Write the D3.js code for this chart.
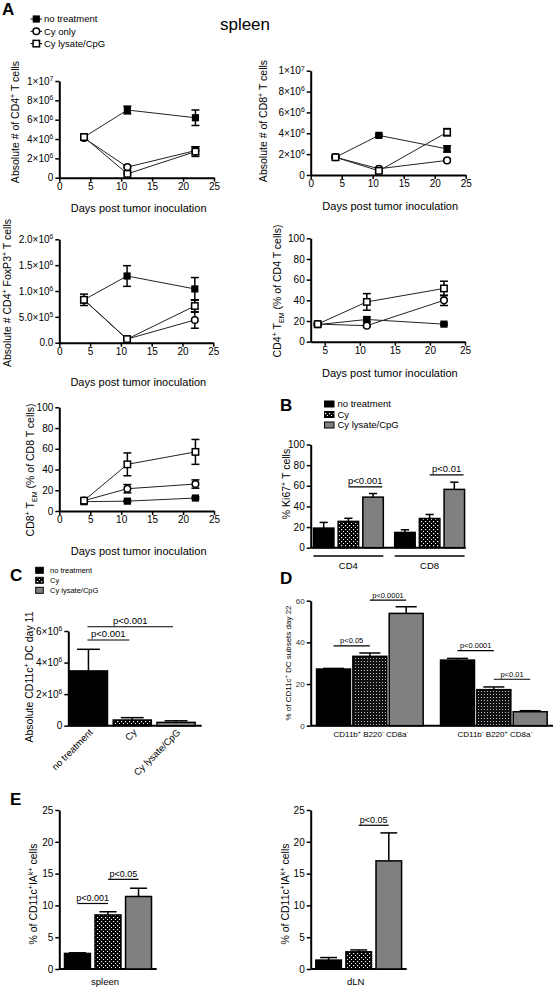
<!DOCTYPE html>
<html><head><meta charset="utf-8">
<script src="https://cdn.jsdelivr.net/npm/d3@7/dist/d3.min.js"></script>
<style>
body{margin:0;background:#fff;}
svg{display:block;}
</style></head>
<body>
<svg id="fig" width="557" height="989"></svg>
<script>
// ================= DATA =================
const days = [4, 11, 22];
const lineSeriesNames = ["no treatment", "Cy only", "Cy lysate/CpG"];
const barNames = ["no treatment", "Cy", "Cy lysate/CpG"];

// A1: Absolute # of CD4+ T cells
const cd4AbsNT = [4.2e6, 7.0e6, 6.2e6],  cd4AbsNTerr = [0.3e6, 0.4e6, 0.8e6];
const cd4AbsCy = [4.1e6, 1.1e6, 2.8e6],  cd4AbsCyErr = [0.2e6, 0.1e6, 0.4e6];
const cd4AbsLy = [4.2e6, 0.4e6, 2.7e6],  cd4AbsLyErr = [0.2e6, 0.1e6, 0.5e6];
// A2: Absolute # of CD8+ T cells
const cd8AbsNT = [1.7e6, 3.8e6, 2.5e6],  cd8AbsNTerr = [0.1e6, 0.1e6, 0.3e6];
const cd8AbsCy = [1.7e6, 0.6e6, 1.4e6],  cd8AbsCyErr = [0.1e6, 0.1e6, 0.1e6];
const cd8AbsLy = [1.7e6, 0.4e6, 4.1e6],  cd8AbsLyErr = [0.1e6, 0.1e6, 0.35e6];
// A3: Absolute # CD4+ FoxP3+ T cells
const foxNT = [0.83e6, 1.29e6, 1.04e6],  foxNTerr = [0.11e6, 0.2e6, 0.22e6];
const foxCy = [0.83e6, 0.07e6, 0.44e6],  foxCyErr = [0.05e6, 0.02e6, 0.16e6];
const foxLy = [0.83e6, 0.07e6, 0.71e6],  foxLyErr = [0.05e6, 0.02e6, 0.12e6];
// A4: CD4+ TEM (% of CD4 T cells)
const tem4NT = [16.5, 21.5, 17],  tem4NTerr = [1, 2, 1];
const tem4Cy = [17, 15.5, 40],    tem4CyErr = [1, 1, 5];
const tem4Ly = [17, 38.5, 51.5],  tem4LyErr = [1, 8, 7];
// A5: CD8+ TEM (% of CD8 T cells)
const tem8NT = [9, 9.5, 12.5],  tem8NTerr = [1, 1, 1];
const tem8Cy = [10, 21.5, 26],  tem8CyErr = [1, 4, 4];
const tem8Ly = [10, 45, 57],    tem8LyErr = [1, 11, 12];
// B: % Ki67+ T cells
const ki67Groups = ["CD4", "CD8"];
const ki67CD4 = [19, 25.5, 49],     ki67CD4err = [5.5, 3, 3.5];
const ki67CD8 = [14.8, 28.3, 56.5], ki67CD8err = [2.6, 3.9, 7];
// C: Absolute CD11c+ DC day 11
const dcAbs = [3.47e6, 0.36e6, 0.21e6], dcAbsErr = [1.37e6, 0.15e6, 0.1e6];
// D: % of CD11c+ DC subsets day 22
const subsetGroups = ["CD11b+ B220- CD8a-", "CD11b- B220+ CD8a-"];
const subset1 = [27.2, 33.3, 53.9], subset1err = [0.3, 1.6, 3.2];
const subset2 = [31.5, 17.3, 6.7],  subset2err = [0.8, 1.3, 0.5];
// E: % of CD11c+IAk+ cells
const iaSpleen = [2.45, 8.5, 11.4], iaSpleenErr = [0.1, 0.5, 1.3];
const iaDLN = [1.4, 2.7, 17.0],     iaDLNerr = [0.4, 0.3, 4.4];

// tick values
const absTicks = [0, 2e6, 4e6, 6e6, 8e6, 1e7];
const foxTicks = [0, 5e5, 1e6, 1.5e6, 2e6];
const pctTicks = [0, 20, 40, 60, 80, 100];
const dayTicks = [0, 5, 10, 15, 20, 25];
const dayTicksTem = [5, 10, 15, 20, 25];
const dcTicks = [0, 2e6, 4e6, 6e6];
const subsetTicks = [0, 20, 40, 60];
const iaTicks = [0, 5, 10, 15, 20, 25];

// significance annotations
const ki67Sig = [["CD4", 1, 2, 59, "p<0.001"], ["CD8", 1, 2, 70.6, "p<0.01"]];
const dcSig = [[0, 2, 6.27e6, "p<0.001"], [0, 1, 5.43e6, "p<0.001"]];
const subsetSig = [[0, 1, 2, 60.3, "p<0.0001"], [0, 0, 1, 38.3, "p<0.05"], [1, 0, 1, 36, "p<0.0001"], [1, 1, 2, 22.3, "p<0.01"]];
const spleenSig = [[0, 1, 10.3, "p<0.001"], [1, 2, 14.1, "p<0.05"]];
const dlnSig = [[1, 2, 22.6, "p<0.05"]];

// ================= DRAWING =================
const FONT = "'Liberation Sans', Arial, Helvetica, sans-serif";
const TICK_FS = 10;
const svg = d3.select("#fig");
svg.append("rect").attr("width", 557).attr("height", 989).attr("fill", "#fff");
const defs = svg.append("defs");
const pd = defs.append("pattern").attr("id", "dots").attr("patternUnits", "userSpaceOnUse").attr("width", 4).attr("height", 4);
pd.append("rect").attr("width", 4).attr("height", 4).attr("fill", "#000");
pd.append("rect").attr("x", 1).attr("y", 1).attr("width", 1.2).attr("height", 1.2).attr("fill", "#fff");
pd.append("rect").attr("x", 3).attr("y", 3).attr("width", 1).attr("height", 1).attr("fill", "#fff");
const pf = defs.append("pattern").attr("id", "dotsFine").attr("patternUnits", "userSpaceOnUse").attr("width", 3).attr("height", 3);
pf.append("rect").attr("width", 3).attr("height", 3).attr("fill", "#111");
pf.append("rect").attr("x", 1).attr("y", 1).attr("width", 1).attr("height", 1).attr("fill", "#bbb");

const barFills = ["#000", "url(#dots)", "#808080"];

function rich(t, parts, fs) {
  t.attr("font-family", FONT).attr("font-size", fs).attr("fill", "#000");
  let cur = 0;
  parts.forEach(p => {
    const [s, k] = Array.isArray(p) ? p : [p, ""];
    const off = k === "sup" ? -0.38 * fs : k === "sub" ? 0.25 * fs : 0;
    const ts = t.append("tspan").text(s);
    if (off !== cur) ts.attr("dy", off - cur);
    if (k) ts.attr("font-size", fs * 0.68);
    cur = off;
  });
  return t;
}
function addText(parent, x, y, parts, fs, anchor, extra) {
  const t = parent.append("text").attr("x", x).attr("y", y).attr("text-anchor", anchor || "start");
  if (extra) extra(t);
  return rich(t, parts, fs);
}
function yLabel(x, y, parts, fs) {
  const g = svg.append("g").attr("transform", `translate(${x},${y}) rotate(-90)`);
  rich(g.append("text").attr("text-anchor", "middle"), parts, fs);
}
function styleAxis(g, fs, col) {
  g.select(".domain").attr("stroke", "#000").attr("stroke-width", 2);
  g.selectAll(".tick line").attr("stroke", "#000").attr("stroke-width", 1.5);
  g.selectAll(".tick text").attr("font-family", FONT).attr("font-size", fs).attr("fill", col || "#000");
}
function sci(mant, exp) { return [[mant + "×10", ""], [String(exp), "sup"]]; }
const fmtAbs = d => d === 0 ? ["0"] : d === 1e7 ? sci("1", 7) : sci(String(d / 1e6), 6);
const fmtFox = d => d === 0 ? ["0.0"] : d < 1e6 ? sci((d / 1e5).toFixed(1), 5) : sci((d / 1e6).toFixed(1), 6);
const fmtDc = d => d === 0 ? ["0"] : sci(String(d / 1e6), 6);
const fmtPlain = d => [String(d)];

function yAxis(g, y, x0, ticks, fmt, fs, col) {
  const gy = g.append("g").attr("transform", `translate(${x0},0)`)
    .call(d3.axisLeft(y).tickValues(ticks).tickSizeInner(4).tickSizeOuter(0).tickPadding(2).tickFormat(() => ""));
  styleAxis(gy, fs, col);
  gy.selectAll(".tick text").each(function (d) { rich(d3.select(this), fmt(d), fs).attr("fill", col || "#000"); });
  return gy;
}

function marker(g, type, cx, cy) {
  if (type === "sq") g.append("rect").attr("x", cx - 3.6).attr("y", cy - 3.6).attr("width", 7.2).attr("height", 7.2).attr("fill", "#000");
  else if (type === "circ") g.append("circle").attr("cx", cx).attr("cy", cy).attr("r", 3.3).attr("fill", "#fff").attr("stroke", "#000").attr("stroke-width", 1.5);
  else g.append("rect").attr("x", cx - 3.2).attr("y", cy - 3.2).attr("width", 6.4).attr("height", 6.4).attr("fill", "#fff").attr("stroke", "#000").attr("stroke-width", 1.5);
}
const markerTypes = ["sq", "circ", "osq"];

function linePanel(c) {
  const x = d3.scaleLinear().domain(c.xDomain).range(c.xRange);
  const y = d3.scaleLinear().domain(c.yDomain).range(c.yRange);
  const g = svg.append("g");
  const gx = g.append("g").attr("transform", `translate(0,${c.yRange[0]})`)
    .call(d3.axisBottom(x).tickValues(c.xTicks).tickSizeInner(4).tickSizeOuter(0).tickPadding(1));
  styleAxis(gx, TICK_FS);
  yAxis(g, y, c.xRange[0], c.yTicks, c.yFmt, TICK_FS);
  const line = d3.line().x((d, i) => x(days[i])).y(d => y(d));
  c.series.forEach(s => g.append("path").attr("d", line(s.v)).attr("fill", "none").attr("stroke", "#222").attr("stroke-width", 1));
  c.series.forEach(s => s.v.forEach((v, i) => {
    const xx = x(days[i]), lo = y(v - s.e[i]), hi = y(v + s.e[i]);
    g.append("line").attr("x1", xx).attr("x2", xx).attr("y1", lo).attr("y2", hi).attr("stroke", "#000").attr("stroke-width", 1.5);
    [lo, hi].forEach(yy => g.append("line").attr("x1", xx - 4).attr("x2", xx + 4).attr("y1", yy).attr("y2", yy).attr("stroke", "#000").attr("stroke-width", 1.5));
  }));
  c.series.forEach((s, k) => s.v.forEach((v, i) => marker(g, markerTypes[k], x(days[i]), y(v))));
  addText(g, (c.xRange[0] + c.xRange[1]) / 2 + 2, c.titleY, ["Days post tumor inoculation"], 11, "middle");
}

function mk(v, e) { return { v, e }; }

// ---- A panels ----
addText(svg, 2, 15, ["A"], 17, "start", t => t.attr("font-weight", "bold"));
addText(svg, 245, 30, ["spleen"], 17, "middle");
lineSeriesNames.forEach((n, i) => {
  const yy = 19 + i * 12.3;
  svg.append("line").attr("x1", 30.5).attr("x2", 42).attr("y1", yy).attr("y2", yy).attr("stroke", "#000").attr("stroke-width", 1);
  marker(svg, markerTypes[i], 36.3, yy);
  addText(svg, 44, yy + 3.3, [n], 9.5);
});

linePanel({ xDomain: [0, 25], xRange: [59.3, 214], yDomain: [0, 1e7], yRange: [177.7, 81], xTicks: dayTicks, yTicks: absTicks, yFmt: fmtAbs, titleY: 212,
  series: [mk(cd4AbsNT, cd4AbsNTerr), mk(cd4AbsCy, cd4AbsCyErr), mk(cd4AbsLy, cd4AbsLyErr)] });
yLabel(19, 122, ["Absolute # of CD4", ["+", "sup"], " T cells"], 10.5);

linePanel({ xDomain: [0, 25], xRange: [310.7, 465.7], yDomain: [0, 1e7], yRange: [175, 70.7], xTicks: dayTicks, yTicks: absTicks, yFmt: fmtAbs, titleY: 210,
  series: [mk(cd8AbsNT, cd8AbsNTerr), mk(cd8AbsCy, cd8AbsCyErr), mk(cd8AbsLy, cd8AbsLyErr)] });
yLabel(266.5, 121, ["Absolute  # of CD8", ["+", "sup"], " T cells"], 10.5);

linePanel({ xDomain: [0, 25], xRange: [59.3, 213.3], yDomain: [0, 2e6], yRange: [342.7, 239.3], xTicks: dayTicks, yTicks: foxTicks, yFmt: fmtFox, titleY: 386,
  series: [mk(foxNT, foxNTerr), mk(foxCy, foxCyErr), mk(foxLy, foxLyErr)] });
yLabel(11, 293, ["Absolute # CD4", ["+", "sup"], " FoxP3", ["+", "sup"], " T cells"], 10.5);

linePanel({ xDomain: [3, 25], xRange: [310.7, 465], yDomain: [0, 100], yRange: [341.7, 238.3], xTicks: dayTicksTem, yTicks: pctTicks, yFmt: fmtPlain, titleY: 377,
  series: [mk(tem4NT, tem4NTerr), mk(tem4Cy, tem4CyErr), mk(tem4Ly, tem4LyErr)] });
yLabel(281, 291, ["CD4", ["+", "sup"], " T", ["EM", "sub"], " (% of CD4  T cells)"], 10.5);

linePanel({ xDomain: [0, 25], xRange: [59.3, 214], yDomain: [0, 100], yRange: [511, 407.3], xTicks: dayTicks, yTicks: pctTicks, yFmt: fmtPlain, titleY: 555,
  series: [mk(tem8NT, tem8NTerr), mk(tem8Cy, tem8CyErr), mk(tem8Ly, tem8LyErr)] });
yLabel(34, 470, ["CD8", ["+", "sup"], " T", ["EM", "sub"], " (% of  CD8 T cells)"], 10.5);

// ---- bar helpers ----
function barBase(c) {
  const y = d3.scaleLinear().domain(c.yDomain).range(c.yRange);
  const g = svg.append("g");
  g.append("line").attr("x1", c.x0).attr("x2", c.xEnd).attr("y1", y(0)).attr("y2", y(0)).attr("stroke", "#000").attr("stroke-width", 2);
  yAxis(g, y, c.x0, c.ticks, c.fmt, c.fs || TICK_FS, c.col);
  return { g, y };
}
function drawBars(g, y, bars, capFrac) {
  bars.forEach(b => {
    g.append("rect").attr("x", b.x).attr("y", y(b.v)).attr("width", b.w).attr("height", y(0) - y(b.v))
      .attr("fill", b.fill).attr("stroke", "#000").attr("stroke-width", 1.5);
    const cx = b.x + b.w / 2, top = y(b.v + b.e);
    g.append("line").attr("x1", cx).attr("x2", cx).attr("y1", y(b.v)).attr("y2", top).attr("stroke", "#000").attr("stroke-width", 1.5);
    g.append("line").attr("x1", cx - b.w * capFrac / 2).attr("x2", cx + b.w * capFrac / 2).attr("y1", top).attr("y2", top).attr("stroke", "#000").attr("stroke-width", 1.5);
  });
}
function bracket(g, x1, x2, yy, label, fs) {
  g.append("line").attr("x1", x1).attr("x2", x2).attr("y1", yy).attr("y2", yy).attr("stroke", "#000").attr("stroke-width", 1.2);
  addText(g, (x1 + x2) / 2, yy - 2.5, [label], fs, "middle");
}
function swatch(g, x, y, w, h, fill) {
  g.append("rect").attr("x", x).attr("y", y).attr("width", w).attr("height", h).attr("fill", fill).attr("stroke", "#000").attr("stroke-width", 1);
}

// ---- B ----
addText(svg, 280, 411, ["B"], 17, "start", t => t.attr("font-weight", "bold"));
barNames.forEach((n, i) => {
  const yy = 404 + i * 10.5;
  swatch(svg, 324.5, yy - 3, 9.5, 6, barFills[i]);
  addText(svg, 337.5, yy + 3.4, [n], 9.5);
});
{
  const { g, y } = barBase({ yDomain: [0, 100], yRange: [547.7, 444.5], x0: 310.7, xEnd: 465.7, ticks: pctTicks, fmt: fmtPlain });
  const outer = d3.scaleBand().domain(ki67Groups).range([311, 467]).paddingInner(0.14).paddingOuter(0.03);
  const inner = d3.scaleBand().domain(barNames).range([0, outer.bandwidth()]).paddingInner(0.17);
  const vals = { CD4: [ki67CD4, ki67CD4err], CD8: [ki67CD8, ki67CD8err] };
  const bars = [];
  ki67Groups.forEach(gr => barNames.forEach((n, i) => bars.push({ x: outer(gr) + inner(n), w: inner.bandwidth(), v: vals[gr][0][i], e: vals[gr][1][i], fill: barFills[i] })));
  drawBars(g, y, bars, 0.4);
  ki67Sig.forEach(([gr, a, b, lev, lab]) => {
    const x1 = outer(gr) + inner(barNames[a]) + inner.bandwidth() / 2;
    const x2 = outer(gr) + inner(barNames[b]) + inner.bandwidth() * 0.95;
    bracket(g, x1, x2, y(lev), lab, 9.5);
  });
  ki67Groups.forEach(gr => {
    g.append("line").attr("x1", outer(gr)).attr("x2", outer(gr) + outer.bandwidth()).attr("y1", 556).attr("y2", 556).attr("stroke", "#000").attr("stroke-width", 1.5);
    addText(g, outer(gr) + outer.bandwidth() / 2, 569, [gr], 9.5, "middle");
  });
  yLabel(290, 484, ["% Ki67", ["+", "sup"], " T cells"], 10.5);
}

// ---- C ----
addText(svg, 10, 581, ["C"], 17, "start", t => t.attr("font-weight", "bold"));
barNames.forEach((n, i) => {
  const yy = 570.3 + i * 10;
  swatch(svg, 35.7, yy - 3, 7.6, 6, barFills[i]);
  addText(svg, 50, yy + 2.7, [n], 7.5);
});
{
  const { g, y } = barBase({ yDomain: [0, 6e6], yRange: [725.7, 631], x0: 68.3, xEnd: 201.7, ticks: dcTicks, fmt: fmtDc });
  const xb = d3.scaleBand().domain(barNames).range([68.5, 196]).paddingInner(0.13).paddingOuter(0.02);
  const bars = barNames.map((n, i) => ({ x: xb(n), w: xb.bandwidth(), v: dcAbs[i], e: dcAbsErr[i], fill: barFills[i] }));
  drawBars(g, y, bars, 0.6);
  const cxOf = i => xb(barNames[i]) + xb.bandwidth() / 2;
  dcSig.forEach(([a, b, lev, lab]) => bracket(g, cxOf(a) - 1, cxOf(b) - 3, y(lev), lab, 9.5));
  barNames.forEach((n, i) => {
    const t = g.append("text").attr("text-anchor", "end").attr("transform", `translate(${cxOf(i) + 5},${733}) rotate(-45)`);
    rich(t, [n], 9.5);
  });
  yLabel(33, 677, ["Absolute CD11c", ["+", "sup"], " DC day 11"], 10.5);
}

// ---- D ----
addText(svg, 280, 584, ["D"], 17, "start", t => t.attr("font-weight", "bold"));
{
  const { g, y } = barBase({ yDomain: [0, 60], yRange: [725.7, 600.7], x0: 310.7, xEnd: 553, ticks: subsetTicks, fmt: fmtPlain, fs: 8, col: "#333" });
  const outer = d3.scaleBand().domain(subsetGroups).range([310.7, 553]).paddingInner(0.14).paddingOuter(0.047);
  const inner = d3.scaleBand().domain(barNames).range([0, outer.bandwidth()]).paddingInner(0.065);
  const vals = [[subset1, subset1err], [subset2, subset2err]];
  const fillsD = ["#000", "url(#dotsFine)", "#808080"];
  const bars = [];
  subsetGroups.forEach((gr, gi) => barNames.forEach((n, i) => bars.push({ x: outer(gr) + inner(n), w: inner.bandwidth(), v: vals[gi][0][i], e: vals[gi][1][i], fill: fillsD[i] })));
  drawBars(g, y, bars, 0.62);
  subsetSig.forEach(([gi, a, b, lev, lab]) => {
    const gr = subsetGroups[gi];
    const x1 = outer(gr) + inner(barNames[a]) + inner.bandwidth() / 2;
    const x2 = outer(gr) + inner(barNames[b]) + inner.bandwidth() / 2;
    bracket(g, x1, x2, y(lev), lab, 7.5);
  });
  const subsetLabelParts = [
    ["CD11b", ["+", "sup"], " B220", ["-", "sup"], " CD8a", ["-", "sup"]],
    ["CD11b", ["-", "sup"], " B220", ["+", "sup"], " CD8a", ["-", "sup"]]
  ];
  subsetGroups.forEach((gr, gi) => addText(g, outer(gr) + outer.bandwidth() / 2 + 1, 737, subsetLabelParts[gi], 8, "middle"));
  yLabel(291, 663, ["% of CD11c", ["+", "sup"], " DC subsets day 22"], 8);
}

// ---- E ----
addText(svg, 10, 805, ["E"], 17, "start", t => t.attr("font-weight", "bold"));
function ePanel(vals, errs, sig, x0, xEnd, label, labX) {
  const { g, y } = barBase({ yDomain: [0, 25], yRange: [969, 810], x0, xEnd, ticks: iaTicks, fmt: fmtPlain });
  const xb = d3.scaleBand().domain(barNames).range([x0, xEnd]).paddingInner(0.15).paddingOuter(0.17);
  const bars = barNames.map((n, i) => ({ x: xb(n), w: xb.bandwidth(), v: vals[i], e: errs[i], fill: barFills[i] }));
  drawBars(g, y, bars, 0.66);
  const cxOf = i => xb(barNames[i]) + xb.bandwidth() / 2;
  sig.forEach(([a, b, lev, lab]) => bracket(g, cxOf(a), cxOf(b), y(lev), lab, 9));
  addText(g, (x0 + xEnd) / 2 - 3, 985, [label], 9.5, "middle");
  yLabel(labX, 894, ["% of CD11c", ["+", "sup"], "IA", ["k+", "sup"], " cells"], 10.5);
}
ePanel(iaSpleen, iaSpleenErr, spleenSig, 59.3, 156.7, "spleen", 37);
ePanel(iaDLN, iaDLNerr, dlnSig, 310.7, 406.7, "dLN", 289);
</script>
</body></html>
